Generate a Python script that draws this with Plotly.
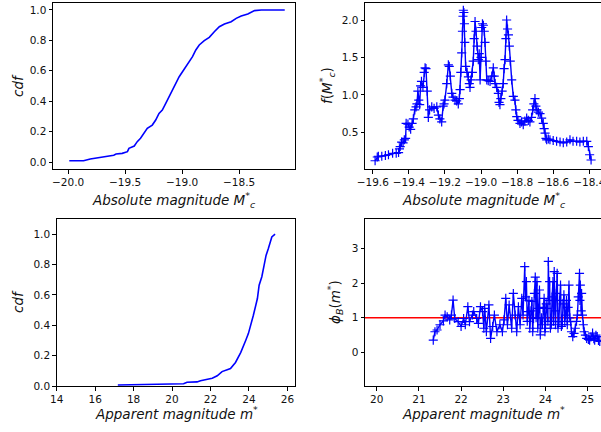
import plotly.graph_objects as go

# ---- data: top-left, cdf of absolute magnitude ----
abs_cdf_x = [-19.99, -19.865, -19.806, -19.72, -19.67, -19.6, -19.58, -19.526, -19.48, -19.467,
             -19.42, -19.394, -19.365, -19.335, -19.306, -19.262, -19.232, -19.203, -19.174, -19.144,
             -19.115, -19.085, -19.056, -19.026, -18.997, -18.968, -18.938, -18.909, -18.88, -18.85,
             -18.806, -18.762, -18.718, -18.674, -18.629, -18.57, -18.526, -18.482, -18.424, -18.365,
             -18.306, -18.1]
abs_cdf_y = [0.008, 0.008, 0.02, 0.03, 0.04, 0.045, 0.053, 0.057, 0.068, 0.09,
             0.105, 0.134, 0.156, 0.189, 0.221, 0.243, 0.276, 0.32, 0.342, 0.386,
             0.43, 0.474, 0.518, 0.561, 0.594, 0.627, 0.66, 0.693, 0.737, 0.77,
             0.798, 0.82, 0.857, 0.89, 0.908, 0.923, 0.945, 0.96, 0.974, 0.996,
             1.0, 1.0]

# ---- data: top-right, f(M_c*) ----
fM_x = [-19.587, -19.575, -19.569, -19.55, -19.53, -19.513, -19.49, -19.47, -19.457, -19.452,
        -19.448, -19.44, -19.432, -19.425, -19.418, -19.415, -19.405, -19.398, -19.39, -19.382,
        -19.375, -19.367, -19.36, -19.355, -19.35, -19.345, -19.34, -19.335, -19.33, -19.322,
        -19.315, -19.31, -19.305, -19.298, -19.292, -19.285, -19.273, -19.26, -19.245, -19.236,
        -19.228, -19.218, -19.21, -19.205, -19.2, -19.19, -19.181, -19.176, -19.17, -19.162,
        -19.155, -19.144, -19.135, -19.126, -19.12, -19.116, -19.112, -19.107, -19.103, -19.1,
        -19.098, -19.095, -19.092, -19.09, -19.085, -19.077, -19.07, -19.065, -19.061, -19.055,
        -19.048, -19.043, -19.038, -19.033, -19.028, -19.022, -19.015, -19.01, -19.005, -19.0,
        -18.996, -18.992, -18.987, -18.982, -18.978, -18.973, -18.968, -18.96, -18.95, -18.94,
        -18.932, -18.927, -18.922, -18.913, -18.904, -18.9, -18.895, -18.89, -18.883, -18.877,
        -18.872, -18.867, -18.862, -18.858, -18.853, -18.848, -18.843, -18.838, -18.83, -18.821,
        -18.812, -18.807, -18.802, -18.795, -18.784, -18.775, -18.766, -18.757, -18.747, -18.738,
        -18.729, -18.72, -18.714, -18.707, -18.701, -18.696, -18.69, -18.682, -18.673, -18.664,
        -18.655, -18.65, -18.645, -18.64, -18.636, -18.627, -18.618, -18.6, -18.581, -18.562,
        -18.544, -18.525, -18.507, -18.49, -18.47, -18.452, -18.433, -18.414, -18.405, -18.398,
        -18.39]
fM_y = [0.12, 0.17, 0.18, 0.18, 0.19, 0.20, 0.22, 0.22, 0.23, 0.28,
        0.31, 0.37, 0.36, 0.40, 0.42, 0.62, 0.61, 0.57, 0.54, 0.62,
        0.68, 0.80, 0.84, 0.88, 1.05, 0.93, 0.87, 1.12, 1.18, 1.10,
        1.30, 1.36, 1.35, 1.05, 0.70, 0.80, 0.84, 0.82, 0.84, 0.73,
        0.68, 0.64, 0.85, 0.88, 0.93, 1.15, 1.40, 1.38, 1.25, 1.02,
        0.97, 0.93, 0.92, 0.88, 0.95, 1.07, 1.30, 1.56, 1.85, 2.05,
        2.13, 2.10, 1.95, 1.70, 1.38, 1.30, 1.24, 1.15, 1.10, 1.20,
        1.30, 1.45, 1.75, 1.98, 1.85, 1.65, 1.47, 1.55, 1.20, 1.50,
        1.90, 1.95, 1.93, 1.85, 1.70, 1.45, 1.20, 1.19, 1.18, 1.25,
        1.36, 1.25, 1.15, 1.10, 1.02, 0.90, 0.87, 0.95, 1.05, 1.15,
        1.35, 1.47, 1.75, 2.00, 1.88, 1.80, 1.65, 1.45, 1.20, 0.98,
        0.93, 0.80, 0.71, 0.66, 0.62, 0.64, 0.60, 0.65, 0.69, 0.66,
        0.64, 0.70, 0.80, 0.88, 0.95, 0.85, 0.80, 0.77, 0.75, 0.69,
        0.62, 0.55, 0.49, 0.42, 0.40, 0.41, 0.40, 0.39, 0.38, 0.37,
        0.36, 0.37, 0.40, 0.38, 0.38, 0.37, 0.38, 0.38, 0.31, 0.20,
        0.13]

# ---- data: bottom-left, cdf of apparent magnitude ----
app_cdf_x = [17.18, 19.48, 20.6, 20.78, 21.3, 21.48, 21.83, 22.09, 22.35, 22.6,
             22.87, 23.04, 23.3, 23.57, 23.83, 23.97, 24.23, 24.44, 24.53, 24.67,
             24.79, 24.89, 25.01, 25.19, 25.36]
app_cdf_y = [0.007, 0.01, 0.015, 0.025, 0.027, 0.035, 0.042, 0.051, 0.067, 0.095,
             0.107, 0.115, 0.155, 0.22, 0.30, 0.345, 0.466, 0.576, 0.664, 0.72,
             0.796, 0.86, 0.906, 0.982, 1.0]

# ---- data: bottom-right, phi_B(m*) ----
phi_x = [21.34, 21.38, 21.43, 21.50, 21.58, 21.62, 21.67, 21.73, 21.77, 21.81,
         21.85, 21.93, 22.00, 22.06, 22.10, 22.16, 22.20, 22.27, 22.30, 22.37,
         22.41, 22.46, 22.51, 22.54, 22.56, 22.60, 22.66, 22.70, 22.75, 22.79,
         22.85, 22.92, 22.98, 23.02, 23.06, 23.10, 23.14, 23.20, 23.24, 23.28,
         23.32, 23.36, 23.40, 23.44, 23.47, 23.51, 23.53, 23.55, 23.57, 23.59,
         23.61, 23.63, 23.66, 23.68, 23.70, 23.72, 23.74, 23.76, 23.78, 23.80,
         23.82, 23.84, 23.86, 23.88, 23.91, 23.93, 23.95, 23.97, 23.99, 24.00,
         24.02, 24.04, 24.06, 24.07, 24.09, 24.10, 24.12, 24.14, 24.16, 24.18,
         24.19, 24.21, 24.23, 24.24, 24.26, 24.28, 24.30, 24.32, 24.34, 24.36,
         24.38, 24.40, 24.42, 24.44, 24.46, 24.48, 24.50, 24.52, 24.54, 24.56,
         24.58, 24.60, 24.62, 24.65, 24.68, 24.71, 24.74, 24.76, 24.78, 24.81,
         24.82, 24.83, 24.85, 24.86, 24.88, 24.90, 24.92, 24.95, 24.98, 25.02,
         25.05, 25.08, 25.12, 25.15, 25.17, 25.20, 25.23, 25.26, 25.29]
phi_y = [0.36, 0.60, 0.65, 0.80, 0.91, 1.08, 1.03, 0.94, 1.08, 1.51,
         0.98, 0.89, 0.75, 0.98, 0.80, 1.32, 0.89, 1.08, 1.18, 0.98,
         0.84, 1.32, 1.18, 0.70, 1.27, 0.60, 1.37, 0.41, 0.75, 1.08,
         0.60, 0.80, 0.60, 0.94, 1.56, 0.80, 1.37, 0.70, 1.70, 1.08,
         0.60, 1.32, 0.80, 1.56, 1.08, 2.47, 1.60, 2.04, 0.90, 1.18,
         1.50, 0.70, 1.20, 1.47, 0.60, 0.98, 1.70, 2.17, 1.00, 2.04,
         0.70, 1.27, 1.80, 0.51, 1.00, 0.80, 1.30, 1.56, 0.60, 0.70,
         1.40, 1.27, 0.90, 2.62, 1.50, 2.04, 0.70, 0.80, 1.60, 2.04,
         0.90, 2.33, 1.20, 0.80, 1.70, 2.28, 0.70, 0.89, 1.50, 1.94,
         0.75, 0.80, 1.40, 1.66, 0.90, 1.08, 1.50, 0.80, 1.30, 1.94,
         1.00, 0.89, 0.60, 0.46, 0.55, 0.70, 0.90, 1.08, 1.60, 2.28,
         1.50, 1.94, 1.20, 1.70, 1.08, 0.80, 0.60, 0.50, 0.41, 0.38,
         0.36, 0.45, 0.56, 0.40, 0.36, 0.50, 0.46, 0.35, 0.32]
phi_ref = 1.0

W, H = 601, 432
def px(x):
    return x / W
def py(y):
    return 1 - y / H

BLUE = "#0000ff"
FONT = "DejaVu Sans"
tickfont = dict(family=FONT, size=10.5, color="#111")
labfont = dict(family=FONT, size=13.5, color="#111")
marker = dict(symbol="cross-thin", size=6.5, line=dict(color=BLUE, width=1.2))

fig = go.Figure()
fig.add_trace(go.Scatter(x=abs_cdf_x, y=abs_cdf_y, mode="lines",
                         line=dict(color=BLUE, width=1.6), xaxis="x", yaxis="y"))
fig.add_trace(go.Scatter(x=fM_x, y=fM_y, mode="lines+markers",
                         line=dict(color=BLUE, width=1.4), marker=marker,
                         xaxis="x2", yaxis="y2"))
fig.add_trace(go.Scatter(x=app_cdf_x, y=app_cdf_y, mode="lines",
                         line=dict(color=BLUE, width=1.6), xaxis="x3", yaxis="y3"))
fig.add_trace(go.Scatter(x=phi_x, y=phi_y, mode="lines+markers",
                         line=dict(color=BLUE, width=1.4), marker=marker,
                         xaxis="x4", yaxis="y4"))

def ax(domain, rng, dtick, anchor, mirror=True, fmt=None):
    d = dict(domain=domain, range=rng, dtick=dtick, tick0=0, anchor=anchor,
             showgrid=False, zeroline=False, showline=True, linecolor="#000", linewidth=1,
             mirror=mirror, ticks="outside", ticklen=3.5, tickwidth=1, tickcolor="#000",
             tickfont=tickfont, automargin=False, ticklabeloverflow="allow")
    if fmt:
        d["tickformat"] = fmt
    return d

top = [py(169), py(3)]
bot = [py(386), py(219)]

fig.update_layout(
    width=W, height=H, margin=dict(l=0, r=0, t=0, b=0),
    paper_bgcolor="white", plot_bgcolor="white", showlegend=False,
    xaxis=ax([px(53), px(295)], [-20.133, -18.01], 0.5, "y", fmt=".1f"),
    yaxis=ax(top, [-0.046, 1.046], 0.2, "x", fmt=".1f"),
    xaxis2=ax([px(365), 1.0], [-19.643, -18.335], 0.2, "y2", fmt=".1f"),
    yaxis2=ax(top, [0.01, 2.227], 0.5, "x2", mirror=False, fmt=".1f"),
    xaxis3=ax([px(56.7), px(294.7)], [14, 26.38], 2, "y3"),
    yaxis3=ax(bot, [0, 1.1], 0.2, "x3", fmt=".1f"),
    xaxis4=ax([px(365), 1.0], [19.72, 25.32], 1, "y4"),
    yaxis4=ax(bot, [-0.96, 3.84], 1, "x4", mirror=False),
)

fig.add_shape(type="line", xref="x4 domain", yref="y4", x0=0, x1=1, y0=phi_ref, y1=phi_ref,
              line=dict(color="red", width=1.6), layer="below")

ann = [
    (174, 200, "<i>Absolute magnitude M</i><sup>*</sup><sub><i>c</i></sub>", 0),
    (484, 200, "<i>Absolute magnitude M</i><sup>*</sup><sub><i>c</i></sub>", 0),
    (176, 413, "<i>Apparent magnitude m</i><sup>*</sup>", 0),
    (484, 413, "<i>Apparent magnitude m</i><sup>*</sup>", 0),
    (18, 86, "<i>cdf</i>", -90),
    (327, 86, "<i>f</i>(<i>M</i><sup>*</sup><sub><i>c</i></sub>)", -90),
    (18, 302, "<i>cdf</i>", -90),
    (335, 302, "<i>ϕ</i><sub><i>B</i></sub>(<i>m</i><sup>*</sup>)", -90),
]
for x, y, t, a in ann:
    fig.add_annotation(x=px(x), y=py(y), xref="paper", yref="paper", text=t, textangle=a,
                       showarrow=False, font=labfont, xanchor="center", yanchor="middle")

fig.write_html("out.html", config={"displayModeBar": False, "staticPlot": True})

# remove the browser's default page margin so the figure sits at (0, 0)
with open("out.html", "r", encoding="utf-8") as f:
    html = f.read()
html = html.replace("<head>", "<head><style>html,body{margin:0;padding:0;overflow:hidden;}</style>", 1)
with open("out.html", "w", encoding="utf-8") as f:
    f.write(html)
